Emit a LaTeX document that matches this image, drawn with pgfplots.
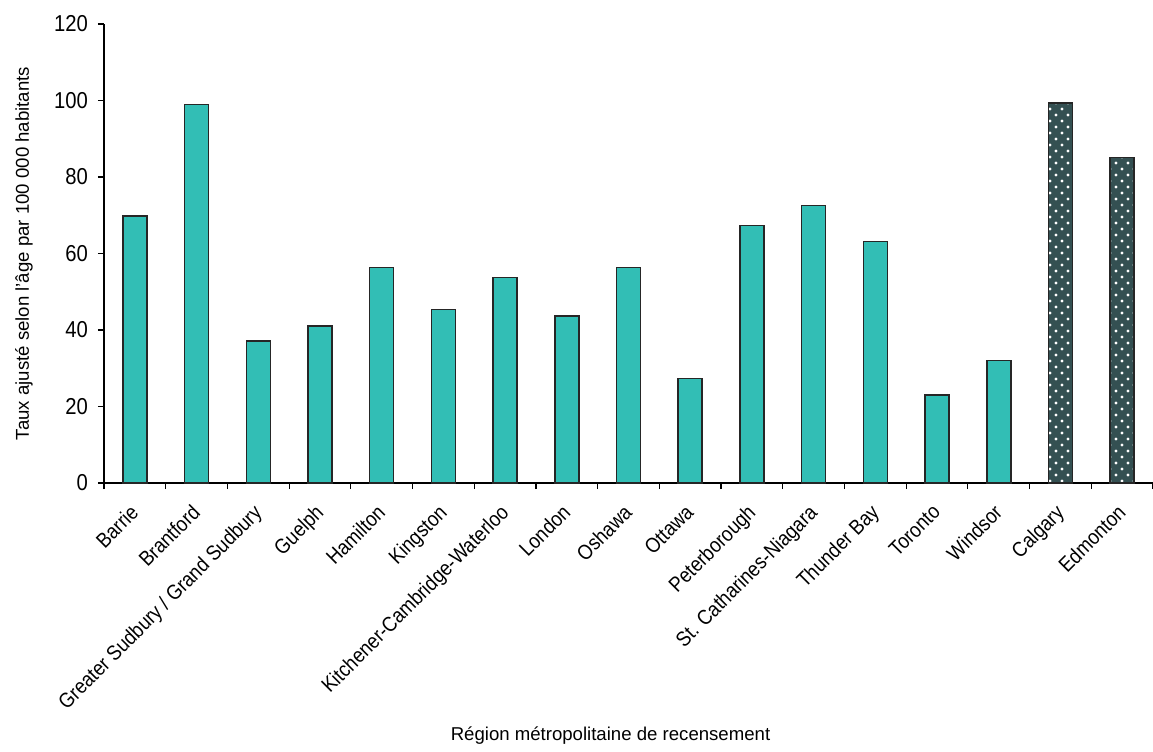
\documentclass[border=0pt]{standalone}
\usepackage{pgfplots}
\pgfplotsset{compat=1.18}
\usepackage{pgfplotstable}
\usepackage{fontspec}
\setmainfont{Liberation Sans}
\newfontfamily\narrowsans[FakeStretch=0.88]{Liberation Sans}
\usetikzlibrary{patterns}

\definecolor{tealbar}{RGB}{50,190,181}
\definecolor{slatebar}{RGB}{52,80,82}

% staggered white dots for the Alberta bars
\pgfdeclarepatternformonly{stagdots}{\pgfpoint{-1pt}{-1pt}}{\pgfpoint{5pt}{5pt}}{\pgfpoint{6pt}{6pt}}{%
  \pgfpathcircle{\pgfpoint{0pt}{0pt}}{0.85pt}%
  \pgfpathcircle{\pgfpoint{3pt}{3pt}}{0.85pt}%
  \pgfusepath{fill}}

% Ontario CMAs
\pgfplotstableread{
x y
0 69.8
1 98.9
2 37.1
3 41.1
4 56.3
5 45.3
6 53.7
7 43.6
8 56.3
9 27.3
10 67.3
11 72.5
12 63.1
13 23.0
14 32.0
}\ontario

% Alberta CMAs
\pgfplotstableread{
x y
15 99.3
16 85.1
}\alberta

\begin{document}
\begin{tikzpicture}
\begin{axis}[
  name=ax,
  scale only axis,
  width=524.5pt, height=229.5pt,
  font=\fontsize{9.3}{11}\selectfont,
  axis lines=left,
  axis line style={-, line width=0.6pt},
  xmin=-0.5, xmax=16.5,
  ymin=0, ymax=120,
  ytick={0,20,...,120},
  xtick={0,...,16},
  xticklabels={Barrie, Brantford, Greater Sudbury / Grand Sudbury, Guelph, Hamilton, Kingston, Kitchener-Cambridge-Waterloo, London, Oshawa, Ottawa, Peterborough, St. Catharines-Niagara, Thunder Bay, Toronto, Windsor, Calgary, Edmonton},
  major x tick style={draw=none},
  minor xtick={-0.5,0.5,...,16.5},
  tick align=outside,
  tick style={black, line width=0.6pt},
  major tick length=3pt, minor tick length=3pt,
  xticklabel style={xshift=-3pt, yshift=-5.5pt, rotate=45, anchor=north east, inner sep=1pt,
    font=\narrowsans\fontsize{10.5}{12.5}\selectfont},
  yticklabel style={xshift=-1.5pt, font=\narrowsans\fontsize{11.5}{13}\selectfont},
  /pgf/number format/assume math mode=true,
  xlabel={Région métropolitaine de recensement},
  xlabel style={at={(axis description cs:0.5,0)}, anchor=north, inner sep=0pt, yshift=-121.5pt, xshift=-9pt},
  ylabel={Taux ajusté selon l’âge par 100 000 habitants},
  ylabel style={at={(axis description cs:-0.0763,0.5)}, rotate=0, anchor=center},
  ybar, bar width=12pt, bar shift=0pt,
  clip=false,
]
\addplot[fill=tealbar, draw=black!85, line width=0.75pt] table[x=x, y=y] {\ontario};
\addplot[fill=slatebar, draw=black!85, line width=0.75pt,
  postaction={pattern=stagdots, pattern color=white}] table[x=x, y=y] {\alberta};
\end{axis}
\pgfresetboundingbox
\useasboundingbox ([xshift=-52pt,yshift=-134pt]ax.south west) rectangle ([yshift=12pt]ax.north east);
\end{tikzpicture}
\end{document}
